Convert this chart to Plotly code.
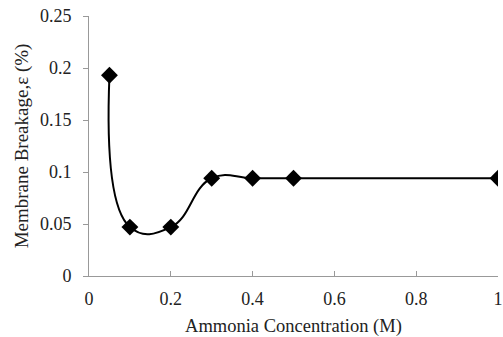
import plotly.graph_objects as go

x_vals = [0.05, 0.1, 0.2, 0.3, 0.4, 0.5, 1.0]
y_vals = [0.193, 0.047, 0.047, 0.094, 0.094, 0.094, 0.094]
x_ticks = [0, 0.2, 0.4, 0.6, 0.8, 1]
x_tick_text = ["0", "0.2", "0.4", "0.6", "0.8", "1"]
y_ticks = [0, 0.05, 0.1, 0.15, 0.2, 0.25]
y_tick_text = ["0", "0.05", "0.1", "0.15", "0.2", "0.25"]

fig = go.Figure()
fig.add_trace(go.Scatter(
    x=x_vals, y=y_vals, mode="lines+markers",
    line=dict(color="black", width=2, shape="spline", smoothing=1.3),
    marker=dict(symbol="diamond", size=13, color="black"),
    showlegend=False,
))

fam = "Liberation Serif, Times New Roman, serif"
tickfont = dict(family=fam, size=18, color="#222")
xtitlefont = dict(family=fam, size=18.5, color="#222")
ytitlefont = dict(family=fam, size=19, color="#222")
fig.update_layout(
    width=503, height=337,
    margin=dict(l=89, r=5, t=16, b=61),
    paper_bgcolor="white", plot_bgcolor="white",
    font=tickfont,
    xaxis=dict(range=[0, 1], tickvals=x_ticks, ticktext=x_tick_text,
               showgrid=False, zeroline=False, showline=True, linecolor="#999",
               linewidth=1, ticks="inside", ticklen=5, tickcolor="#999",
               ticklabelstandoff=6, automargin=False,
               title=dict(text="Ammonia Concentration (M)", standoff=12, font=xtitlefont),
               tickfont=tickfont),
    yaxis=dict(range=[0, 0.25], tickvals=y_ticks, ticktext=y_tick_text,
               showgrid=False, zeroline=False, showline=True, linecolor="#999",
               linewidth=1, ticks="outside", ticklen=5, tickcolor="#999",
               ticklabelstandoff=8, automargin=False,
               title=dict(text="Membrane Breakage,ε (%)", standoff=6, font=ytitlefont),
               tickfont=tickfont),
)
fig.write_html("out.html")
